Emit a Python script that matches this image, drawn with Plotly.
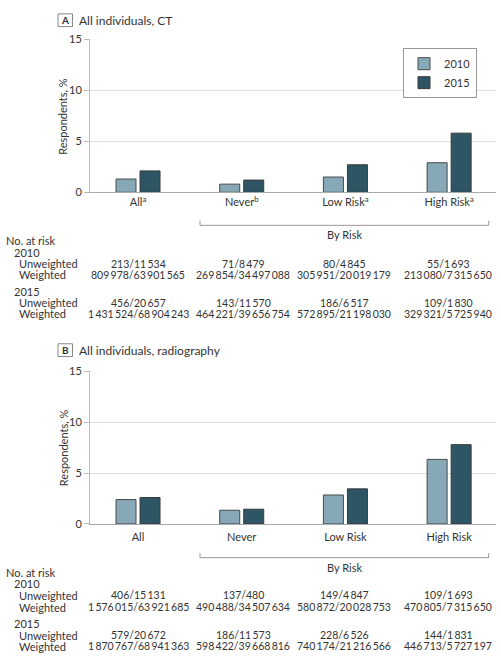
import plotly.graph_objects as go

W, H = 501, 663

categories = ["All", "Never", "Low Risk", "High Risk"]
labels_A = ["All<sup>a</sup>", "Never<sup>b</sup>", "Low Risk<sup>a</sup>", "High Risk<sup>a</sup>"]
labels_B = ["All", "Never", "Low Risk", "High Risk"]
years = ["2010", "2015"]

ct_2010 = [1.3, 0.8, 1.5, 2.9]
ct_2015 = [2.1, 1.2, 2.7, 5.8]
xr_2010 = [2.4, 1.35, 2.85, 6.35]
xr_2015 = [2.6, 1.45, 3.45, 7.8]

ct_unw_2010 = [(213, 11534), (71, 8479), (80, 4845), (55, 1693)]
ct_w_2010 = [(809978, 63901565), (269854, 34497088), (305951, 20019179), (213080, 7315650)]
ct_unw_2015 = [(456, 20657), (143, 11570), (186, 6517), (109, 1830)]
ct_w_2015 = [(1431524, 68904243), (464221, 39656754), (572895, 21198030), (329321, 5725940)]

xr_unw_2010 = [(406, 15131), (137, 480), (149, 4847), (109, 1693)]
xr_w_2010 = [(1576015, 63921685), (490488, 34507634), (580872, 20028753), (470805, 7315650)]
xr_unw_2015 = [(579, 20672), (186, 11573), (228, 6526), (144, 1831)]
xr_w_2015 = [(1870767, 68941363), (598422, 39668816), (740174, 21216566), (446713, 5727197)]

yticks = [0, 5, 10, 15]

C2010 = "#87a8b6"
C2015 = "#2d5563"
TXT = "#333333"
FONT = "Lato"


def px(x):
    return x / W


def py(y):
    return 1 - y / H


def fmt(n):
    return f"{n:,}".replace(",", "\u2009")


def frac(p):
    return f"{fmt(p[0])}/{fmt(p[1])}"


fig = go.Figure()

for (v10, v15, xa, ya, show) in [(ct_2010, ct_2015, "x", "y", True), (xr_2010, xr_2015, "x2", "y2", False)]:
    fig.add_trace(go.Bar(x=categories, y=v10, name=years[0], marker=dict(color=C2010, line=dict(color="#4a4a4a", width=1)),
                         xaxis=xa, yaxis=ya, showlegend=show))
    fig.add_trace(go.Bar(x=categories, y=v15, name=years[1], marker=dict(color=C2015, line=dict(color="#3a3a3a", width=1)),
                         xaxis=xa, yaxis=ya, showlegend=show))

xdom = [px(90), px(496)]
ydomA = [py(189), py(33)]
ydomB = [py(527.3), py(371.7)]

common_x = dict(type="category", range=[-0.463, 3.452], showline=True, linecolor="#aaaaaa", linewidth=1,
                ticks="", showgrid=False, tickfont=dict(family=FONT, size=11, color=TXT), fixedrange=True)
common_y = dict(range=[0, 15], tickvals=yticks, showline=True, linecolor="#bbbbbb", linewidth=1,
                ticks="outside", ticklen=5, tickcolor="#bbbbbb", showgrid=True, gridcolor="#e0e0e0",
                zeroline=False, tickfont=dict(family=FONT, size=11, color=TXT), fixedrange=True)

fig.update_layout(
    width=W, height=H, margin=dict(l=0, r=0, t=0, b=0),
    paper_bgcolor="white", plot_bgcolor="white",
    barmode="group", bargap=0.537, bargroupgap=0.167,
    font=dict(family=FONT, size=11, color=TXT),
    xaxis=dict(domain=xdom, anchor="y", tickvals=categories, ticktext=labels_A, **common_x),
    yaxis=dict(domain=ydomA, anchor="x", **common_y),
    xaxis2=dict(domain=xdom, anchor="y2", tickvals=categories, ticktext=labels_B, ticklabelstandoff=3, **common_x),
    yaxis2=dict(domain=ydomB, anchor="x2", **common_y),
    legend=dict(x=px(440), y=py(42), xanchor="center", yanchor="top", bordercolor="#999999", borderwidth=1,
                bgcolor="white", font=dict(family=FONT, size=11, color=TXT),
                itemwidth=30),
)

ann = []
shapes = []


def text(x, y, s, xanchor="left", size=11, **kw):
    ann.append(dict(x=px(x), y=py(y), xref="paper", yref="paper", text=s, showarrow=False,
                    xanchor=xanchor, yanchor="middle", font=dict(family=FONT, size=size, color=TXT), **kw))


col_x = [138, 243, 344, 448]


def panel(letter, title, hy, ytitle_y, br_y, rows, vals):
    shapes.append(dict(type="rect", xref="paper", yref="paper", x0=px(58), x1=px(72.5), y0=py(hy - 6.5), y1=py(hy + 6.5),
                       line=dict(color="#888888", width=1), fillcolor="white"))
    text(65.3, hy, f"<b>{letter}</b>", xanchor="center", size=10)
    text(77, hy, title, size=12)
    ann.append(dict(x=px(63), y=py(ytitle_y), xref="paper", yref="paper", text="Respondents, %", showarrow=False,
                    textangle=-90, xanchor="center", yanchor="middle", font=dict(family=FONT, size=11, color=TXT)))
    top = br_y - 4.7
    for seg in [(200, br_y, 488.7, br_y), (200, top, 200, br_y), (488.7, top, 488.7, br_y)]:
        shapes.append(dict(type="line", xref="paper", yref="paper", x0=px(seg[0]), y0=py(seg[1]), x1=px(seg[2]), y1=py(seg[3]),
                           line=dict(color="#999999", width=1)))
    text(344, br_y + 9.5, "By Risk", xanchor="center")
    ny, y10, yu10, yw10, y15, yu15, yw15 = rows
    text(4, ny, "No. at risk")
    text(12, y10, "2010")
    text(17, yu10, "Unweighted")
    text(17, yw10, "Weighted")
    text(12, y15, "2015")
    text(17, yu15, "Unweighted")
    text(17, yw15, "Weighted")
    for rowy, data in zip([yu10, yw10, yu15, yw15], vals):
        for cx, p in zip(col_x, data):
            text(cx, rowy, frac(p), xanchor="center", size=10.5)


panel("A", "All individuals, CT", 13.5, 111, 222.7,
      (237.7, 250, 262, 273, 290, 301.7, 313),
      [ct_unw_2010, ct_w_2010, ct_unw_2015, ct_w_2015])
panel("B", "All individuals, radiography", 350, 449, 561.7,
      (576.7, 588, 600, 612, 628.7, 640.7, 652),
      [xr_unw_2010, xr_w_2010, xr_unw_2015, xr_w_2015])

fig.update_layout(annotations=ann, shapes=shapes)

fig.write_html("out.html", config={"displayModeBar": False},
               post_script="document.body.style.margin='0';document.body.style.padding='0';document.body.style.overflow='hidden';")
